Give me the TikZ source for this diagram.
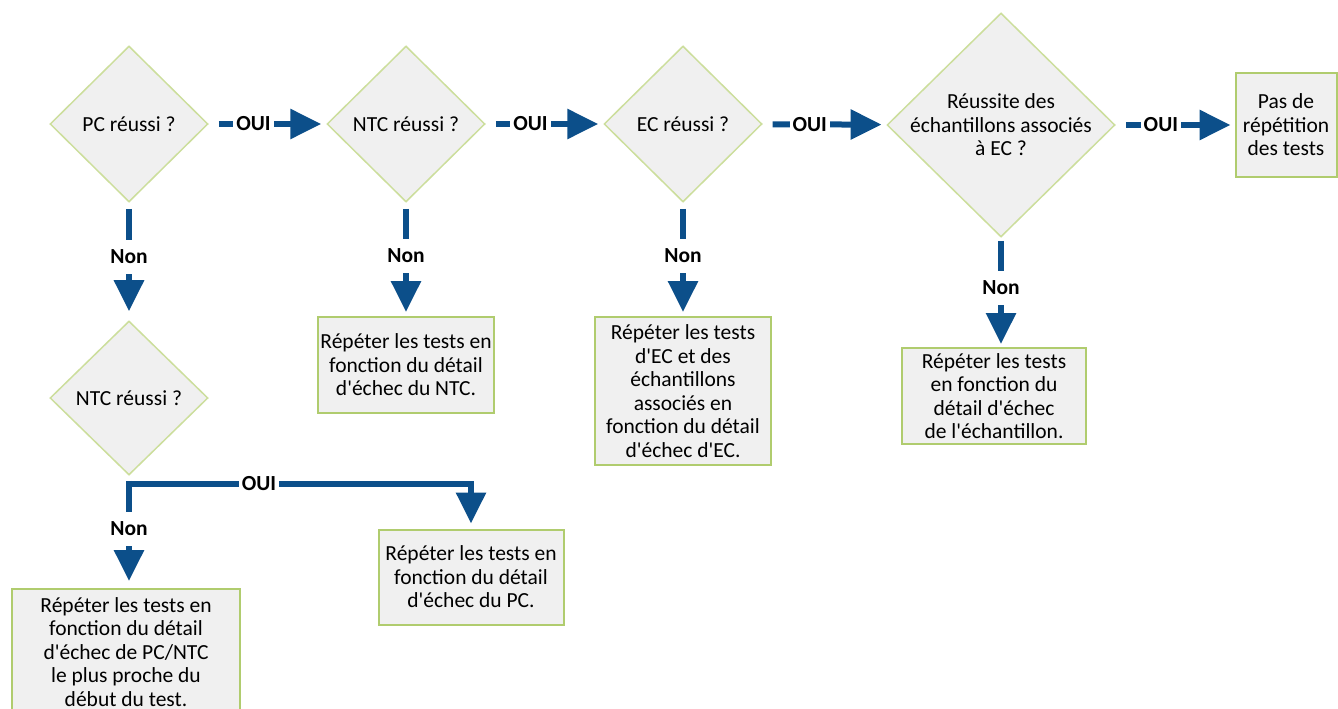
\documentclass[tikz,border=0pt]{standalone}
\usepackage{fontspec}
\setmainfont{Carlito}
\usetikzlibrary{positioning}
\usetikzlibrary{arrows.meta}
\usetikzlibrary{shapes.geometric}
\definecolor{flowblue}{RGB}{12,79,138}
\definecolor{boxgreen}{RGB}{176,204,110}
\definecolor{diagreen}{RGB}{204,222,156}
\definecolor{boxgrey}{RGB}{240,240,240}
\newcommand{\chartfont}{\fontsize{21.5}{23.5}\selectfont}
\newcommand{\ap}{\textquotesingle}
\tikzset{
  question/.style={diamond, draw=diagreen, fill=boxgrey, line width=1.5pt, inner sep=0pt, aspect=1, align=center},
  action/.style={rectangle, draw=boxgreen, fill=boxgrey, line width=2pt, inner sep=2pt, align=center},
  flow/.style={draw=flowblue, line width=6pt, -{Triangle[length=31pt,width=29pt]}},
  answer/.style={fill=white, inner xsep=3pt, inner ysep=10pt, font=\chartfont\bfseries},
}

\begin{document}
\begin{tikzpicture}[x=1pt, y=-1pt, font=\chartfont]
    \useasboundingbox (0,0) rectangle (1338,709);

    % decisions
    \node[question, minimum width=158pt, minimum height=156pt] (pc) at (129,124) {PC réussi ?};
    \node[question, minimum width=158pt, minimum height=156pt] (ntc) at (406,124) {NTC réussi ?};
    \node[question, minimum width=158pt, minimum height=156pt] (ec) at (683,124) {EC réussi ?};
    \node[question, inner sep=-6pt, minimum width=228pt, minimum height=224pt] (ecs) at (1001,125) {Réussite des\\échantillons associés\\à EC ?};
    \node[question, minimum width=158pt, minimum height=154pt] (ntcb) at (129,398) {NTC réussi ?};

    % outcomes
    \node[action, minimum width=101pt, minimum height=104pt] (pass) at (1286,125) {Pas de\\répétition\\des tests};
    \node[action, minimum width=176pt, minimum height=96pt] (ntcfail) at (406,365) {Répéter les tests en\\fonction du détail\\d\ap échec du NTC.};
    \node[action, minimum width=176pt, minimum height=148pt] (ecfail) at (683,391) {Répéter les tests\\d\ap EC et des\\échantillons\\associés en\\fonction du détail\\d\ap échec d\ap EC.};
    \node[action, minimum width=184pt, minimum height=96pt] (ecsfail) at (994,396) {Répéter les tests\\en fonction du\\détail d\ap échec\\de l\ap échantillon.};
    \node[action, minimum width=185pt, minimum height=95pt] (pcfail) at (471,577) {Répéter les tests en\\fonction du détail\\d\ap échec du PC.};
    \node[action, minimum width=228pt, minimum height=126pt, text depth=0pt] (bothfail) at (126,652) {Répéter les tests en\\fonction du détail\\d\ap échec de PC/NTC\\le plus proche du\\début du test.};

    % OUI branches
    \draw[flow, shorten <=10pt, shorten >=5pt] (pc) -- node[answer, pos=0.38] {OUI} (ntc);
    \draw[flow, shorten <=10pt, shorten >=5pt] (ntc) -- node[answer, pos=0.38] {OUI} (ec);
    \draw[flow, shorten <=10pt, shorten >=5pt] (ec) -- node[answer, pos=0.38] {OUI} (ecs);
    \draw[flow, shorten <=10pt, shorten >=4pt] (ecs) -- node[answer, pos=0.38] {OUI} (pass);

    % Non branches
    \draw[flow, shorten <=6pt, shorten >=9pt] (pc) -- node[answer, pos=0.46] {Non} (ntcb);
    \draw[flow, shorten <=6pt, shorten >=4pt] (ntc) -- node[answer, pos=0.47] {Non} (ntcfail);
    \draw[flow, shorten <=6pt, shorten >=4pt] (ec) -- node[answer, pos=0.47] {Non} (ecfail);
    \draw[flow, shorten <=3pt, shorten >=3pt] (ecs) -- node[answer, pos=0.46] {Non} (ecs |- ecsfail.north);

    % second NTC check
    \coordinate[below=8pt of ntcb.south] (fork);
    \draw[flow, shorten >=5pt] (fork) -| node[answer, pos=0.19] {OUI} (pcfail);
    \draw[flow, shorten <=-3pt, shorten >=7pt] (fork) -- node[answer, pos=0.43] {Non} (fork |- bothfail.north);
\end{tikzpicture}
\end{document}
